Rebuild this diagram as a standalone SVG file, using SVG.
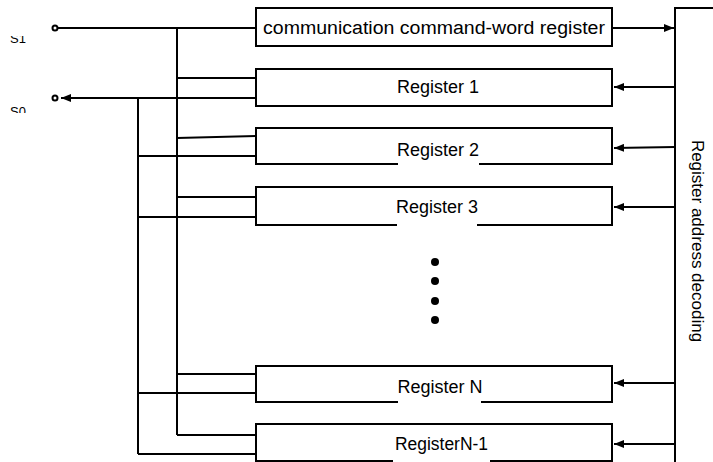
<svg xmlns="http://www.w3.org/2000/svg" width="713" height="462" viewBox="0 0 713 462">
<style>
.box{fill:#fff;stroke:#000;stroke-width:2}
.ln{fill:none;stroke:#000;stroke-width:2}
.t{font-family:"Liberation Sans",Arial,sans-serif;font-size:18px;fill:#000}
.s{font-family:"Liberation Sans",Arial,sans-serif;font-size:13px;fill:#000}
.gap{fill:#fff}
</style>
<defs>
<marker id="ah" viewBox="0 0 10 8" refX="10" refY="4" markerWidth="10" markerHeight="8" markerUnits="userSpaceOnUse" orient="auto">
<path d="M0,0 L10,4 L0,8 Z" fill="#000"/>
</marker>
<clipPath id="c1"><rect x="0" y="36" width="40" height="10"/></clipPath>
<clipPath id="c0"><rect x="0" y="100" width="40" height="13"/></clipPath>
</defs>
<rect width="713" height="462" fill="#fff"/>
<g id="labels">
<text class="s" x="10" y="43" clip-path="url(#c1)">S1</text>
<text class="s" x="10" y="116" clip-path="url(#c0)">S0</text>
</g>
<g id="connectors">
<line class="ln" x1="58" y1="28" x2="256" y2="28"/>
<line class="ln" x1="256" y1="98" x2="61" y2="98" marker-end="url(#ah)"/>
<line class="ln" x1="177" y1="28" x2="177" y2="435"/>
<line class="ln" x1="138" y1="98" x2="138" y2="454"/>
<line class="ln" x1="177" y1="78" x2="256" y2="78"/>
<line class="ln" x1="177" y1="138" x2="256" y2="136"/>
<line class="ln" x1="138" y1="156" x2="256" y2="156"/>
<line class="ln" x1="177" y1="197" x2="256" y2="197"/>
<line class="ln" x1="138" y1="217" x2="256" y2="217"/>
<line class="ln" x1="177" y1="374" x2="256" y2="374"/>
<line class="ln" x1="138" y1="393" x2="256" y2="393"/>
<line class="ln" x1="177" y1="435" x2="256" y2="435"/>
<line class="ln" x1="138" y1="454" x2="256" y2="454"/>
<line class="ln" x1="612" y1="28" x2="674" y2="28" marker-end="url(#ah)"/>
<line class="ln" x1="675" y1="87" x2="614" y2="87" marker-end="url(#ah)"/>
<line class="ln" x1="675" y1="147" x2="614" y2="148" marker-end="url(#ah)"/>
<line class="ln" x1="675" y1="207" x2="614" y2="207" marker-end="url(#ah)"/>
<line class="ln" x1="675" y1="383" x2="614" y2="383" marker-end="url(#ah)"/>
<line class="ln" x1="675" y1="444" x2="614" y2="444" marker-end="url(#ah)"/>
<circle cx="55" cy="28" r="2.5" fill="#fff" stroke="#000" stroke-width="2"/>
<circle cx="55" cy="98" r="2.5" fill="#fff" stroke="#000" stroke-width="2"/>
</g>
<g id="cmd">
<rect class="box" x="256" y="8" width="356" height="38"/>
<text class="t" x="263" y="34" textLength="342" lengthAdjust="spacingAndGlyphs">communication command-word register</text>
</g>
<g id="reg1">
<rect class="box" x="256" y="69" width="356" height="37"/>
<text class="t" x="438" y="93" text-anchor="middle">Register 1</text>
</g>
<g id="reg2">
<rect class="box" x="256" y="128" width="356" height="36"/>
<rect class="gap" x="398" y="162" width="81" height="4"/>
<text class="t" x="438" y="156" text-anchor="middle">Register 2</text>
</g>
<g id="reg3">
<rect class="box" x="256" y="187" width="356" height="38"/>
<rect class="gap" x="397" y="223" width="80" height="4"/>
<text class="t" x="437" y="213" text-anchor="middle">Register 3</text>
</g>
<g id="dots">
<circle cx="435" cy="262" r="4"/>
<circle cx="435" cy="281" r="4"/>
<circle cx="435" cy="301" r="4"/>
<circle cx="435" cy="320" r="4"/>
</g>
<g id="regN">
<rect class="box" x="256" y="366" width="356" height="36"/>
<rect class="gap" x="398" y="400" width="83" height="4"/>
<text class="t" x="440" y="393" text-anchor="middle">Register N</text>
</g>
<g id="regN1">
<rect class="box" x="256" y="424" width="356" height="37"/>
<rect class="gap" x="393" y="459" width="97" height="4"/>
<text class="t" x="395" y="450" textLength="93" lengthAdjust="spacingAndGlyphs">RegisterN-1</text>
</g>
<g id="decoder">
<path class="ln" d="M675,462 L675,8 L713,8"/>
<text class="t" transform="translate(692,241) rotate(90)" text-anchor="middle" style="font-size:17px">Register address decoding</text>
</g>
</svg>
